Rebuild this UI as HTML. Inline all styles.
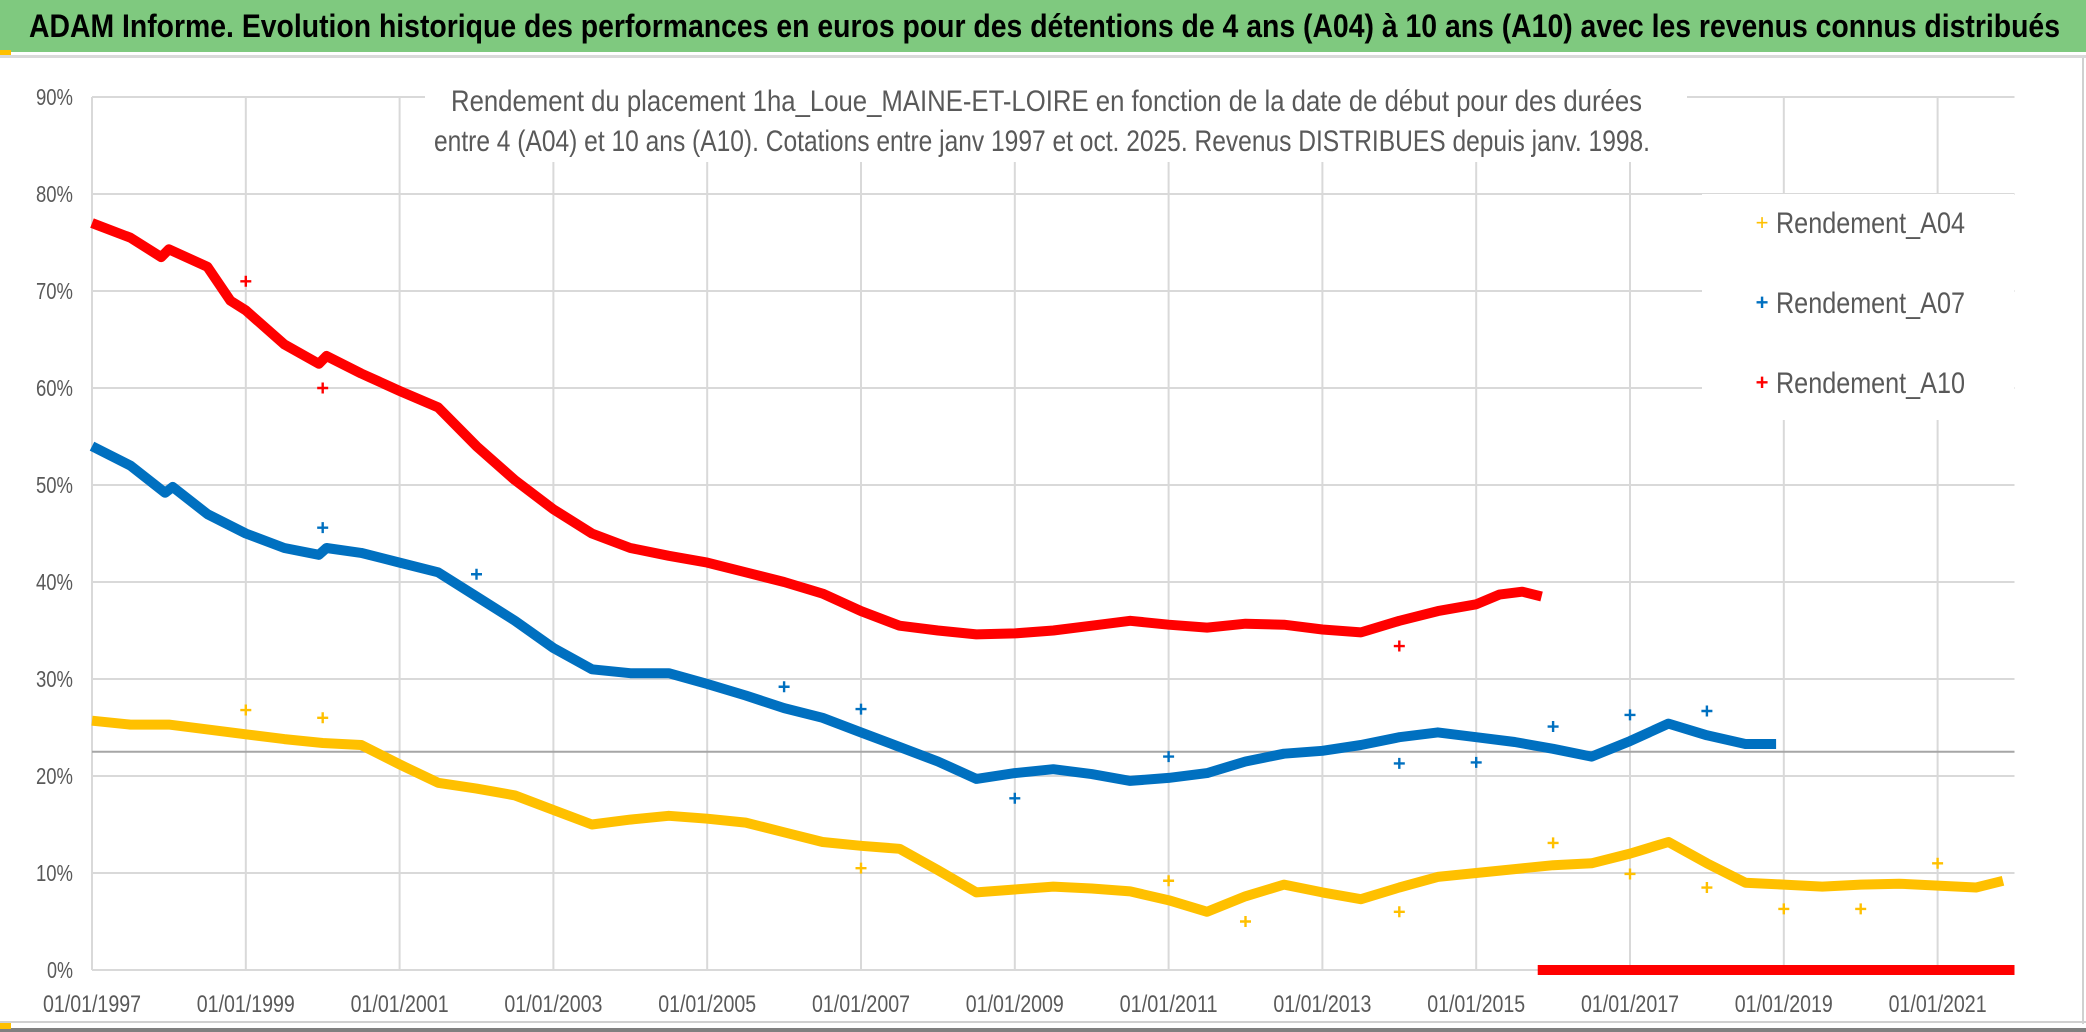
<!DOCTYPE html>
<html><head><meta charset="utf-8"><style>
html,body{margin:0;padding:0;background:#fff;}
svg{display:block;font-family:"Liberation Sans",sans-serif;}
</style></head><body>
<svg id="chart" width="2086" height="1032" viewBox="0 0 2086 1032">
<rect x="0" y="0" width="2086" height="1032" fill="#fff"/>
<rect x="0" y="0" width="2086" height="52" fill="#7fc97f"/>
<rect x="0" y="52" width="2086" height="3" fill="#fff"/>
<rect x="0" y="55" width="2086" height="3" fill="#d9d9d9"/>
<rect x="0" y="50" width="11" height="5" fill="#ffc000"/>
<rect x="2082" y="58" width="2" height="966" fill="#d0d0d0"/>
<rect x="0" y="1021" width="2086" height="2" fill="#d0d0d0"/>
<rect x="0" y="1028" width="2086" height="4" fill="#808080"/>
<rect x="0" y="1023" width="11" height="6" fill="#ffc000"/>
<text x="29" y="37" font-size="32" font-weight="bold" fill="#000" textLength="2031" lengthAdjust="spacingAndGlyphs">ADAM Informe. Evolution historique des performances en euros pour des détentions de 4 ans (A04) à 10 ans (A10) avec les revenus connus distribués</text>
<g id="grid"></g>
<g id="axes"></g>
<rect x="425" y="80" width="1262" height="82" fill="#fff"/>
<text x="451" y="111" font-size="30" fill="#595959" textLength="1191" lengthAdjust="spacingAndGlyphs">Rendement du placement 1ha_Loue_MAINE-ET-LOIRE en fonction de la date de début pour des durées</text>
<text x="434" y="151" font-size="30" fill="#595959" textLength="1216" lengthAdjust="spacingAndGlyphs">entre 4 (A04) et 10 ans (A10). Cotations entre janv 1997 et oct. 2025. Revenus DISTRIBUES depuis janv. 1998.</text>
<g id="series"></g>
<g>
<rect x="1702" y="194" width="312" height="226" fill="#fff"/>
<g><text x="1762" y="230" font-size="22" fill="#ffc000" text-anchor="middle">+</text><text x="1776" y="233" font-size="30" fill="#595959" textLength="189" lengthAdjust="spacingAndGlyphs">Rendement_A04</text></g>
<g><text x="1762" y="310" font-size="22" fill="#0070c0" text-anchor="middle" font-weight="bold">+</text><text x="1776" y="313" font-size="30" fill="#595959" textLength="189" lengthAdjust="spacingAndGlyphs">Rendement_A07</text></g>
<g><text x="1762" y="390" font-size="22" fill="#ff0000" text-anchor="middle" font-weight="bold">+</text><text x="1776" y="393" font-size="30" fill="#595959" textLength="189" lengthAdjust="spacingAndGlyphs">Rendement_A10</text></g>
</g>
</svg>
<script>
const yTicks=[0,10,20,30,40,50,60,70,80,90];
const xTickYears=[1997,1999,2001,2003,2005,2007,2009,2011,2013,2015,2017,2019,2021];
const refLineValue=22.5;
const a04Dates=[1997.0,1997.5,1998.0,1998.5,1999.0,1999.5,2000.0,2000.5,2001.0,2001.5,2002.0,2002.5,2003.0,2003.5,2004.0,2004.5,2005.0,2005.5,2006.0,2006.5,2007.0,2007.5,2008.0,2008.5,2009.0,2009.5,2010.0,2010.5,2011.0,2011.5,2012.0,2012.5,2013.0,2013.5,2014.0,2014.5,2015.0,2015.5,2016.0,2016.5,2017.0,2017.5,2018.0,2018.5,2019.0,2019.5,2020.0,2020.5,2021.0,2021.5,2021.85];
const a04Values=[25.7,25.3,25.3,24.8,24.3,23.8,23.4,23.2,21.2,19.3,18.7,18,16.5,15,15.5,15.9,15.6,15.2,14.2,13.2,12.8,12.5,10.3,8,8.3,8.6,8.4,8.1,7.2,6,7.6,8.8,8,7.3,8.5,9.6,10,10.4,10.8,11,12,13.2,11,9,8.8,8.6,8.8,8.9,8.7,8.5,9.2];
const a04OutDates=[1999,2000,2007,2011,2012,2014,2016,2017,2018,2019,2020,2021];
const a04OutValues=[26.8,26,10.5,9.2,5,6,13.1,9.9,8.5,6.3,6.3,11];
const a07Dates=[1997.0,1997.5,1997.95,1998.05,1998.5,1999.0,1999.5,1999.95,2000.05,2000.5,2001.0,2001.5,2002.0,2002.5,2003.0,2003.5,2004.0,2004.5,2005.0,2005.5,2006.0,2006.5,2007.0,2007.5,2008.0,2008.5,2009.0,2009.5,2010.0,2010.5,2011.0,2011.5,2012.0,2012.5,2013.0,2013.5,2014.0,2014.5,2015.0,2015.5,2016.0,2016.5,2017.0,2017.5,2018.0,2018.5,2018.9];
const a07Values=[54,52,49.2,49.8,47,45,43.5,42.8,43.5,43,42,41,38.5,36,33.2,31,30.6,30.6,29.5,28.3,27,26,24.5,23,21.5,19.7,20.3,20.7,20.2,19.5,19.8,20.3,21.5,22.3,22.6,23.2,24,24.5,24,23.5,22.8,22,23.6,25.4,24.2,23.3,23.3];
const a07OutDates=[2000,2002,2006,2007,2009,2011,2014,2015,2016,2017,2018];
const a07OutValues=[45.6,40.8,29.2,26.9,17.7,22,21.3,21.4,25.1,26.3,26.7];
const a10Dates=[1997.0,1997.5,1997.9,1998.0,1998.5,1998.8,1999.0,1999.5,1999.95,2000.05,2000.5,2001.0,2001.5,2002.0,2002.5,2003.0,2003.5,2004.0,2004.5,2005.0,2005.5,2006.0,2006.5,2007.0,2007.5,2008.0,2008.5,2009.0,2009.5,2010.0,2010.5,2011.0,2011.5,2012.0,2012.5,2013.0,2013.5,2014.0,2014.5,2015.0,2015.3,2015.6,2015.85];
const a10Values=[77,75.5,73.5,74.3,72.5,69,68,64.5,62.5,63.3,61.5,59.7,58,54,50.5,47.5,45,43.5,42.7,42,41,40,38.8,37,35.5,35,34.6,34.7,35,35.5,36,35.6,35.3,35.7,35.6,35.1,34.8,36,37,37.7,38.7,39,38.5];
const a10OutDates=[1999,2000,2014];
const a10OutValues=[71,60,33.4];
const distribZeroStart=2015.8;
const distribZeroEnd=2022.0;
const distribZeroValue=0;

const NS="http://www.w3.org/2000/svg";
const X0=92,PX_PER_YEAR=76.9,Y0=970,PX_PER_PCT=9.7,XMAX=2022.0;
function xs(d){return X0+(d-1997)*PX_PER_YEAR;}
function ys(v){return Y0-v*PX_PER_PCT;}
function mk(tag,attrs,parent){const e=document.createElementNS(NS,tag);for(const k in attrs)e.setAttribute(k,attrs[k]);parent.appendChild(e);return e;}
const grid=document.getElementById('grid'),axes=document.getElementById('axes'),series=document.getElementById('series');
yTicks.forEach(v=>{
  const l=mk('line',{x1:X0,x2:xs(XMAX),y1:ys(v),y2:ys(v),stroke:'#d9d9d9','stroke-width':2},grid);
  
  
  const t=mk('text',{x:73,y:ys(v)+8,'font-size':23,fill:'#595959','text-anchor':'end',textLength:37,lengthAdjust:'spacingAndGlyphs'},axes);
  t.textContent=v+'%';
  if(v===0){t.setAttribute('textLength',26);}
  
  
});
xTickYears.forEach(yr=>{
  const l=mk('line',{x1:xs(yr),x2:xs(yr),y1:ys(90),y2:ys(0),stroke:'#d9d9d9','stroke-width':2},grid);
  
  
  const t=mk('text',{x:xs(yr),y:1012,'font-size':24,fill:'#595959','text-anchor':'middle',textLength:98,lengthAdjust:'spacingAndGlyphs'},axes);
  t.textContent='01/01/'+yr;
  
  
});
const ref=mk('line',{x1:X0,x2:xs(XMAX),y1:ys(refLineValue),y2:ys(refLineValue),stroke:'#a6a6a6','stroke-width':2},grid);



function plus(x,y,c,s,g){
  const p=mk('path',{d:`M${x-s} ${y}H${x+s}M${x} ${y-s}V${y+s}`,stroke:c,'stroke-width':2.4,fill:'none'},g);
  
  
}
function drawSeries(name,dates,vals,od,ov,color){
  const g=mk('g',{},series);
  
  
  const pts=dates.map((d,i)=>xs(d).toFixed(1)+','+ys(vals[i]).toFixed(1)).join(' ');
  const pl=mk('polyline',{points:pts,fill:'none',stroke:color,'stroke-width':10,'stroke-linejoin':'round'},g);
  
  
  od.forEach((d,i)=>plus(xs(d),ys(ov[i]),color,5.5,g));
}
drawSeries('series-a04',a04Dates,a04Values,a04OutDates,a04OutValues,'#ffc000');
drawSeries('series-a07',a07Dates,a07Values,a07OutDates,a07OutValues,'#0070c0');
drawSeries('series-a10',a10Dates,a10Values,a10OutDates,a10OutValues,'#ff0000');
const z=mk('line',{x1:xs(distribZeroStart),x2:xs(distribZeroEnd),y1:ys(distribZeroValue),y2:ys(distribZeroValue),stroke:'#ff0000','stroke-width':10},series);


</script>
</body></html>
